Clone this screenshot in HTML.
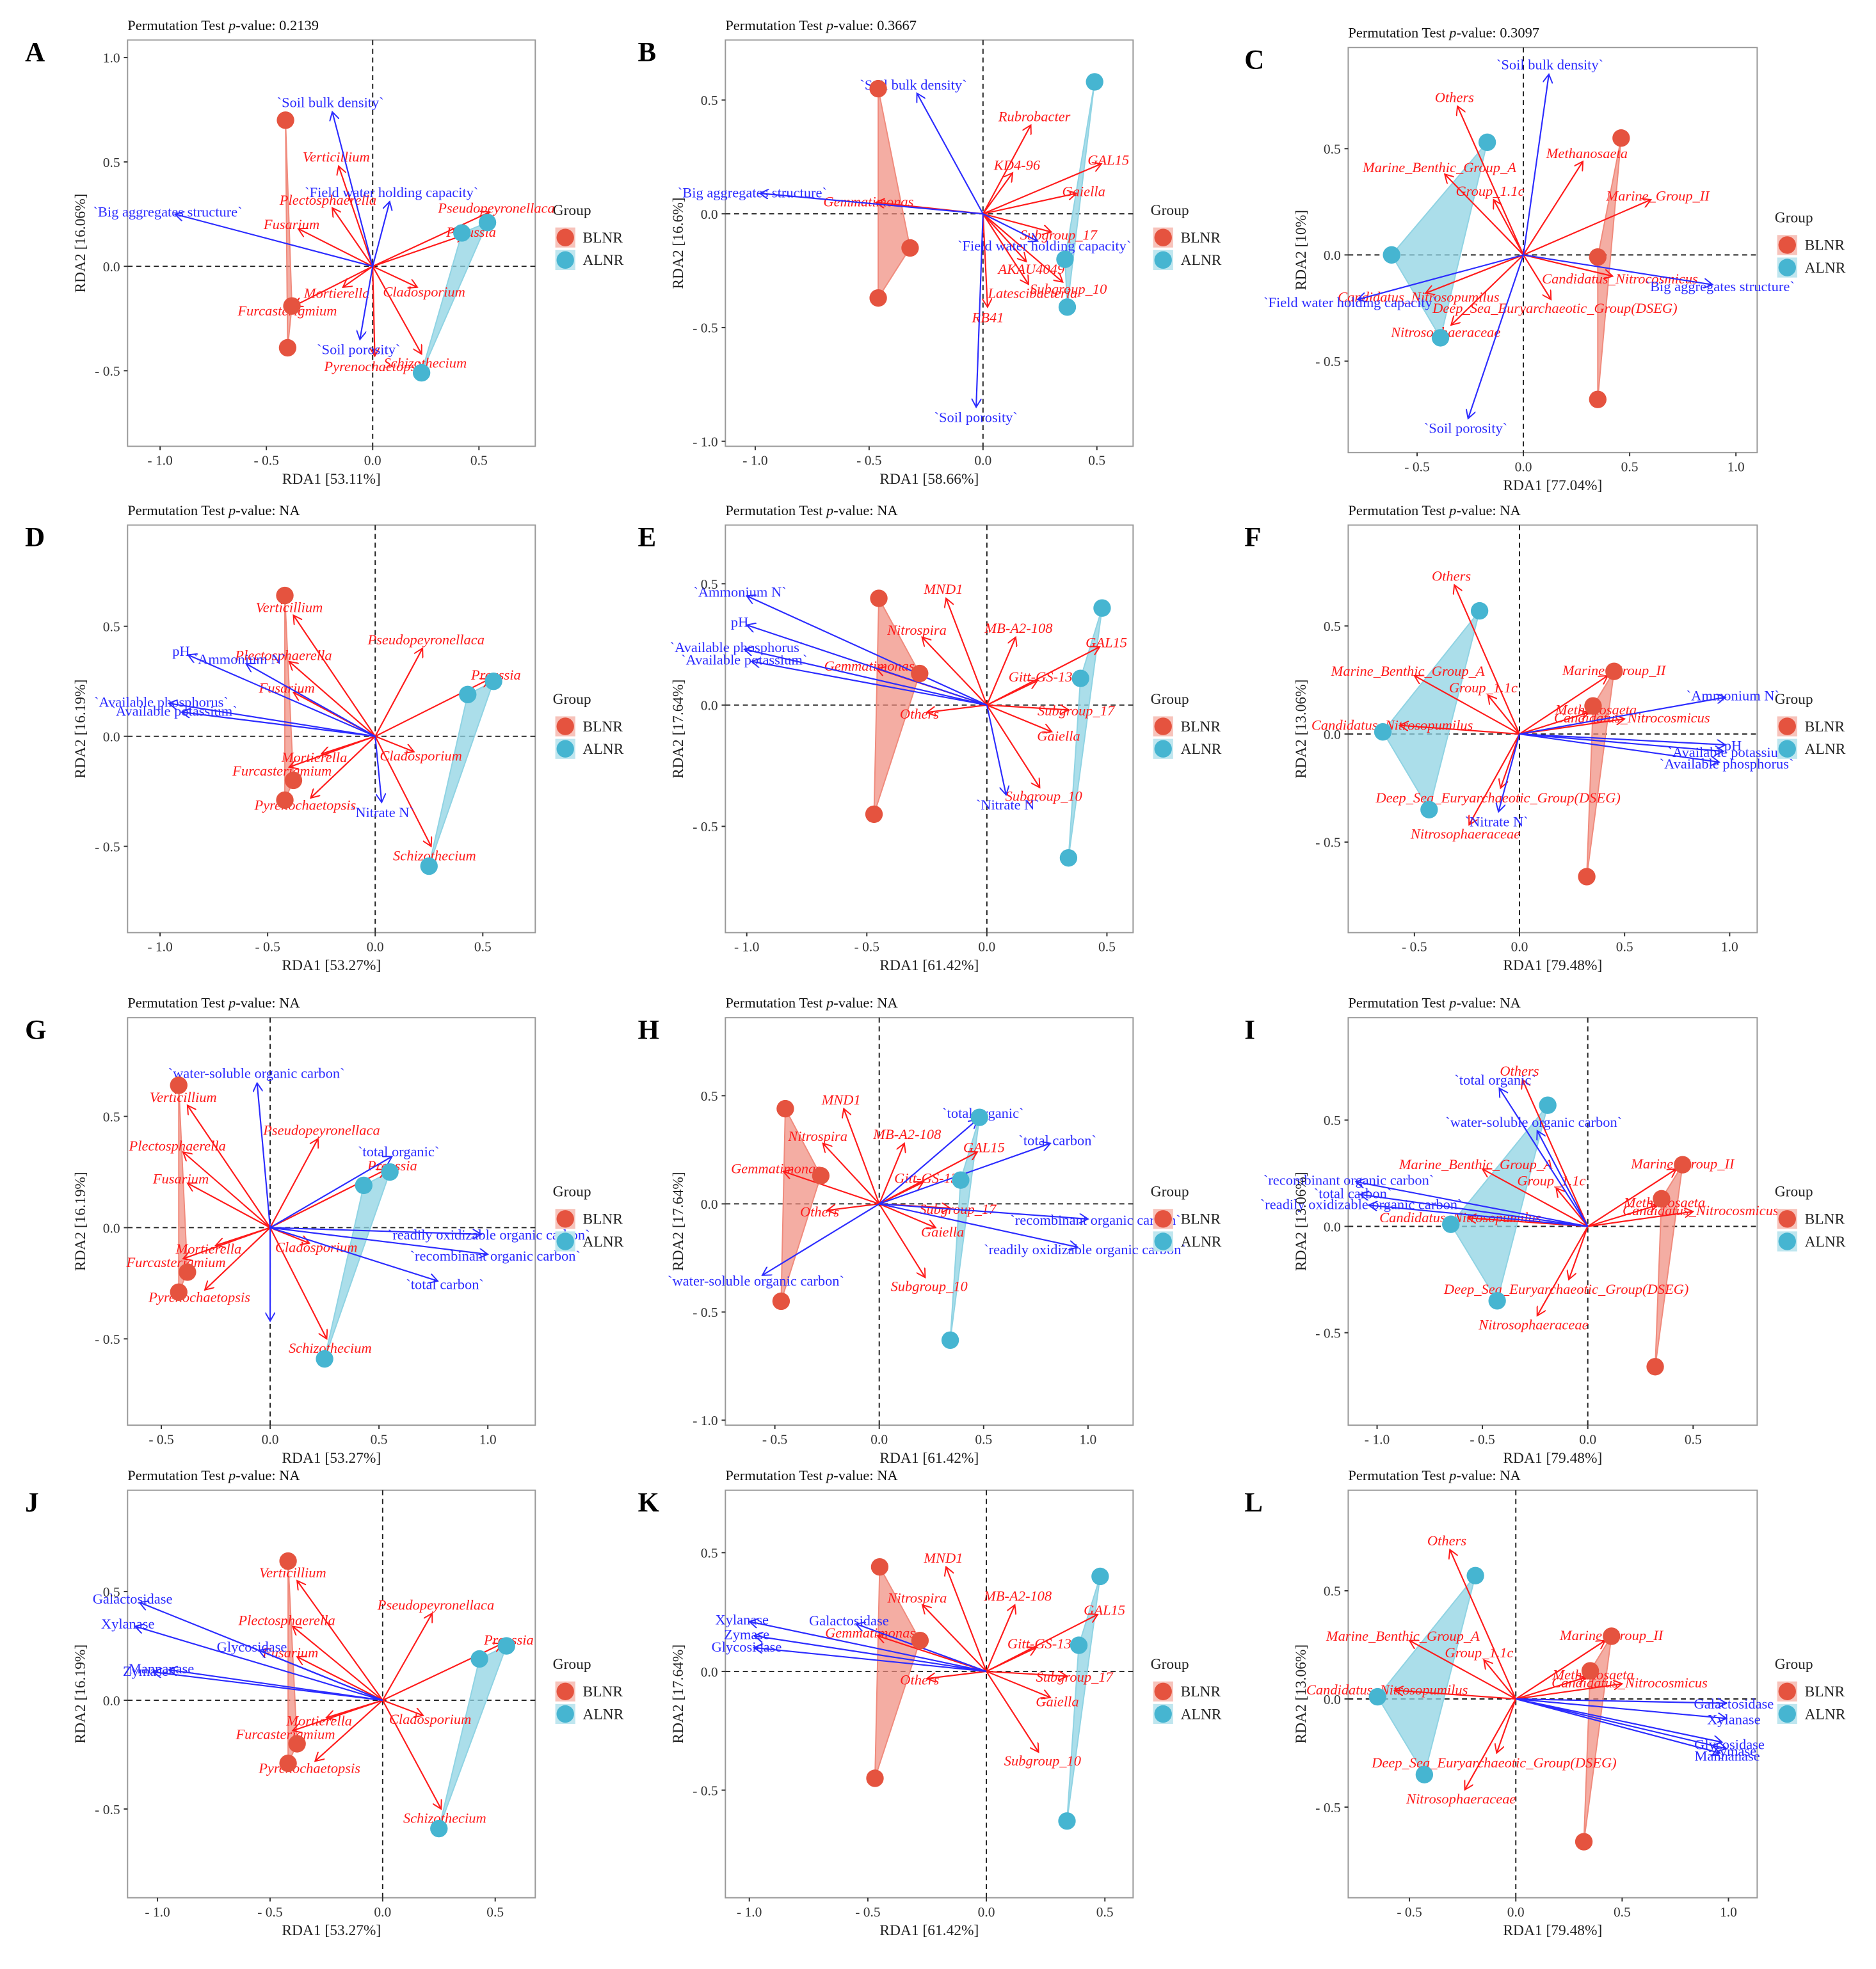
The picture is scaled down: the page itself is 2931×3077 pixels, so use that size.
<!DOCTYPE html>
<html><head><meta charset="utf-8">
<style>
html,body{margin:0;padding:0;background:#fff;}
svg{display:block;font-family:"Liberation Serif",serif;}
.sp{fill:#ff1a1a;font-style:italic;font-size:11.5px;}
.env{fill:#2b2bff;font-size:11.5px;}
.tick{fill:#333;font-size:11px;}
.axt{fill:#222;font-size:12px;}
</style></head>
<body>
<svg id="fig" xmlns="http://www.w3.org/2000/svg" width="2931" height="3077" viewBox="0 0 1500 1575" preserveAspectRatio="none">
<defs>
<marker id="ar" markerWidth="8" markerHeight="8" refX="7" refY="4" orient="auto" markerUnits="userSpaceOnUse"><path d="M0,0 L7,4 L0,8" fill="none" stroke="#ff1a1a" stroke-width="1"/></marker>
<marker id="ab" markerWidth="8" markerHeight="8" refX="7" refY="4" orient="auto" markerUnits="userSpaceOnUse"><path d="M0,0 L7,4 L0,8" fill="none" stroke="#2b2bff" stroke-width="1"/></marker>
</defs>
</svg>
<script>
// ---------- data ----------
const groups = ["BLNR","ALNR"];
const A_blnr=[[-0.41,0.70],[-0.38,-0.19],[-0.40,-0.39]];
const A_alnr=[[0.42,0.16],[0.54,0.21],[0.23,-0.51]];
const A_env=[["`Soil bulk density`",-0.19,0.74],["`Field water holding capacity`",0.08,0.31],["`Big aggregates structure`",-0.93,0.25],["`Soil porosity`",-0.06,-0.35]];
const A_sp=[["Verticillium",-0.16,0.48],["Plectosphaerella",-0.19,0.28],["Fusarium",-0.35,0.18],["Pseudopeyronellaca",0.55,0.26],["Preussia",0.43,0.15],["Mortierella",-0.14,-0.10],["Cladosporium",0.21,-0.10],["Furcasterigmium",-0.37,-0.19],["Pyrenochaetopsis",0.01,-0.43],["Schizothecium",0.23,-0.42]];
const B_blnr=[[-0.46,0.55],[-0.32,-0.15],[-0.46,-0.37]];
const B_alnr=[[0.49,0.58],[0.36,-0.20],[0.37,-0.41]];
const B_env=[["`Soil bulk density`",-0.29,0.53],["`Big aggregates structure`",-0.98,0.09],["`Field water holding capacity`",0.24,-0.12],["`Soil porosity`",-0.03,-0.85]];
const B_sp=[["Rubrobacter",0.21,0.39],["KD4-96",0.13,0.18],["GAL15",0.52,0.22],["Gaiella",0.41,0.09],["Gemmatimonas",-0.47,0.05],["Subgroup_17",0.30,-0.08],["AKAU4049",0.19,-0.21],["Latescibacteria",0.20,-0.31],["Subgroup_10",0.35,-0.30],["RB41",0.02,-0.41]];
const C_blnr=[[0.46,0.55],[0.35,-0.01],[0.35,-0.68]];
const C_alnr=[[-0.17,0.53],[-0.62,0.00],[-0.39,-0.39]];
const C_env=[["`Soil bulk density`",0.12,0.85],["`Big aggregates structure`",0.89,-0.14],["`Field water holding capacity`",-0.78,-0.21],["`Soil porosity`",-0.26,-0.77]];
const C_sp=[["Others",-0.31,0.70],["Marine_Benthic_Group_A",-0.37,0.38],["Group_1.1c",-0.14,0.26],["Methanosaeta",0.28,0.44],["Marine_Group_II",0.60,0.26],["Candidatus_Nitrosopumilus",-0.46,-0.18],["Candidatus_Nitrocosmicus",0.42,-0.10],["Deep_Sea_Euryarchaeotic_Group(DSEG)",0.13,-0.21],["Nitrosophaeraceae",-0.34,-0.33]];
const fungi_blnr=[[-0.42,0.64],[-0.38,-0.20],[-0.42,-0.29]];
const fungi_alnr=[[0.43,0.19],[0.55,0.25],[0.25,-0.59]];
const fungi_sp=[["Verticillium",-0.38,0.55],["Pseudopeyronellaca",0.22,0.40],["Preussia",0.53,0.26],["Plectosphaerella",-0.40,0.34],["Fusarium",-0.38,0.20],["Mortierella",-0.25,-0.08],["Cladosporium",0.18,-0.07],["Furcasterigmium",-0.40,-0.14],["Pyrenochaetopsis",-0.30,-0.28],["Schizothecium",0.26,-0.50]];
const bact_blnr=[[-0.45,0.44],[-0.28,0.13],[-0.47,-0.45]];
const bact_alnr=[[0.48,0.40],[0.39,0.11],[0.34,-0.63]];
const bact_sp=[["MND1",-0.17,0.44],["Nitrospira",-0.27,0.28],["MB-A2-108",0.12,0.28],["GAL15",0.47,0.24],["Gitt-GS-136",0.21,0.10],["Gemmatimonas",-0.46,0.15],["Subgroup_17",0.34,-0.02],["Gaiella",0.27,-0.11],["Subgroup_10",0.22,-0.34],["Others",-0.25,-0.03]];
const arch_blnr=[[0.45,0.29],[0.35,0.13],[0.32,-0.66]];
const arch_alnr=[[-0.19,0.57],[-0.65,0.01],[-0.43,-0.35]];
const arch_sp=[["Others",-0.31,0.69],["Marine_Benthic_Group_A",-0.50,0.27],["Group_1.1c",-0.15,0.18],["Methanosaeta",0.33,0.10],["Marine_Group_II",0.42,0.27],["Candidatus_Nitrosopumilus",-0.57,0.04],["Candidatus_Nitrocosmicus",0.50,0.07],["Deep_Sea_Euryarchaeotic_Group(DSEG)",-0.09,-0.25],["Nitrosophaeraceae",-0.24,-0.42]];
const D_env=[["pH",-0.87,0.37],["`Ammonium N`",-0.60,0.33],["`Available phosphorus`",-0.96,0.15],["`Available potassium`",-0.90,0.11],["`Nitrate N`",0.03,-0.30]];
const E_env=[["`Ammonium N`",-1.00,0.45],["pH",-1.00,0.33],["`Available phosphorus`",-1.01,0.23],["`Available potassium`",-0.98,0.18],["`Nitrate N`",0.08,-0.37]];
const F_env=[["`Ammonium N`",0.98,0.17],["pH",0.98,-0.05],["`Available potassium`",0.97,-0.08],["`Available phosphorus`",0.95,-0.13],["`Nitrate N`",-0.10,-0.36]];
const G_env=[["`water-soluble organic carbon`",-0.06,0.65],["`total organic`",0.56,0.32],["`readily oxidizable organic carbon`",0.97,-0.03],["`recombinant organic carbon`",1.00,-0.12],["`total carbon`",0.77,-0.24],["",0.00,-0.42]];
const H_env=[["`total organic`",0.47,0.39],["`total carbon`",0.82,0.28],["`recombinant organic carbon`",1.00,-0.07],["`readily oxidizable organic carbon`",0.95,-0.20],["`water-soluble organic carbon`",-0.56,-0.33]];
const I_env=[["`total organic`",-0.42,0.65],["`water-soluble organic carbon`",-0.24,0.45],["`recombinant organic carbon`",-1.10,0.21],["`total carbon`",-1.08,0.15],["`readily oxidizable organic carbon`",-1.04,0.10]];
const J_env=[["Galactosidase",-1.08,0.45],["Xylanase",-1.10,0.34],["Glycosidase",-0.55,0.23],["Mannanase",-0.95,0.14],["Zymase",-1.02,0.13]];
const K_env=[["Xylanase",-1.00,0.21],["Galactosidase",-0.55,0.20],["Zymase",-0.98,0.15],["Glycosidase",-0.98,0.10]];
const L_env=[["Galactosidase",0.99,-0.02],["Xylanase",0.99,-0.09],["Glycosidase",0.97,-0.20],["Zymase",0.99,-0.23],["Mannanase",0.96,-0.25]];
const xt1=[-1,-0.5,0,0.5], xt2=[-0.5,0,0.5,1];
const yt3=[0.5,0,-0.5], yt4a=[1,0.5,0,-0.5], yt4b=[0.5,0,-0.5,-1];
const pvals=["0.2139","0.3667","0.3097","NA","NA","NA","NA","NA","NA","NA","NA","NA"];
const rda1=["53.11","58.66","77.04","53.27","61.42","79.48","53.27","61.42","79.48","53.27","61.42","79.48"];
const rda2=["16.06","16.6","10","16.19","17.64","13.06","16.19","17.64","13.06","16.19","17.64","13.06"];

const panels=[
 {id:"A",box:[102,32,428,357],xr:[-1.153,0.765],yr:[-0.862,1.084],xt:xt1,yt:yt4a,b:A_blnr,a:A_alnr,env:A_env,sp:A_sp},
 {id:"B",box:[580,32,906,357],xr:[-1.131,0.659],yr:[-1.022,0.764],xt:xt1,yt:yt4b,b:B_blnr,a:B_alnr,env:B_env,sp:B_sp},
 {id:"C",box:[1078,38,1405,362],xr:[-0.824,1.10],yr:[-0.93,0.976],xt:xt2,yt:yt3,b:C_blnr,a:C_alnr,env:C_env,sp:C_sp},
 {id:"D",box:[102,420,428,746],xr:[-1.151,0.744],yr:[-0.892,0.96],xt:xt1,yt:yt3,b:fungi_blnr,a:fungi_alnr,env:D_env,sp:fungi_sp},
 {id:"E",box:[580,420,906,746],xr:[-1.089,0.609],yr:[-0.938,0.742],xt:xt1,yt:yt3,b:bact_blnr,a:bact_alnr,env:E_env,sp:bact_sp},
 {id:"F",box:[1078,420,1405,746],xr:[-0.815,1.131],yr:[-0.919,0.967],xt:xt2,yt:yt3,b:arch_blnr,a:arch_alnr,env:F_env,sp:arch_sp},
 {id:"G",box:[102,814,428,1140],xr:[-0.655,1.218],yr:[-0.888,0.944],xt:xt2,yt:yt3,b:fungi_blnr,a:fungi_alnr,env:G_env,sp:fungi_sp},
 {id:"H",box:[580,814,906,1140],xr:[-0.737,1.216],yr:[-1.023,0.861],xt:xt2,yt:yt4b,b:bact_blnr,a:bact_alnr,env:H_env,sp:bact_sp},
 {id:"I",box:[1078,814,1405,1140],xr:[-1.137,0.804],yr:[-0.935,0.982],xt:xt1,yt:yt3,b:arch_blnr,a:arch_alnr,env:I_env,sp:arch_sp},
 {id:"J",box:[102,1192,428,1518],xr:[-1.133,0.678],yr:[-0.908,0.966],xt:xt1,yt:yt3,b:fungi_blnr,a:fungi_alnr,env:J_env,sp:fungi_sp},
 {id:"K",box:[580,1192,906,1518],xr:[-1.101,0.619],yr:[-0.953,0.763],xt:xt1,yt:yt3,b:bact_blnr,a:bact_alnr,env:K_env,sp:bact_sp},
 {id:"L",box:[1078,1192,1405,1518],xr:[-0.788,1.135],yr:[-0.919,0.965],xt:xt2,yt:yt3,b:arch_blnr,a:arch_alnr,env:L_env,sp:arch_sp}
];
const letterX=[20,510,995];
const NS="http://www.w3.org/2000/svg";
const svg=document.getElementById("fig");
function mk(tag,attrs,parent,txt){const e=document.createElementNS(NS,tag);for(const k in attrs)e.setAttribute(k,attrs[k]);if(txt!==undefined)e.textContent=txt;(parent||svg).appendChild(e);return e;}
function fmt(v){return v<0?"- "+Math.abs(v).toFixed(1):v.toFixed(1);}

panels.forEach((p,i)=>{
 const [x0,y0,x1,y1]=p.box;
 const sx=v=>x0+(v-p.xr[0])/(p.xr[1]-p.xr[0])*(x1-x0);
 const sy=v=>y1-(v-p.yr[0])/(p.yr[1]-p.yr[0])*(y1-y0);
 const g=mk("g",{});
 
 
 const r=mk("rect",{x:x0,y:y0,width:x1-x0,height:y1-y0,fill:"none",stroke:"#999","stroke-width":1},g);
 
 
 const letter=mk("text",{x:letterX[i%3],y:y0+17,"font-size":22,"font-weight":"bold",fill:"#000"},g,p.id);
 
 
 const t=mk("text",{x:x0,y:y0-8,"font-size":11.5,fill:"#111"},g);
 
 
 mk("tspan",{},t,"Permutation Test ");mk("tspan",{"font-style":"italic"},t,"p");mk("tspan",{},t,"-value: "+pvals[i]);
 mk("line",{x1:sx(0),y1:y0,x2:sx(0),y2:y1,stroke:"#222","stroke-dasharray":"4,3","stroke-width":1},g);
 mk("line",{x1:x0,y1:sy(0),x2:x1,y2:sy(0),stroke:"#222","stroke-dasharray":"4,3","stroke-width":1},g);
 const hb=mk("polygon",{points:p.b.map(q=>sx(q[0])+","+sy(q[1])).join(" "),fill:"#f08a7c","fill-opacity":0.7,stroke:"#f08a7c"},g);
 
 
 const ha=mk("polygon",{points:p.a.map(q=>sx(q[0])+","+sy(q[1])).join(" "),fill:"#8fd3e3","fill-opacity":0.75,stroke:"#8fd3e3"},g);
 
 
 const ox=sx(0),oy=sy(0);
 function arrows(arr,col,mark,cls,nm){
  arr.forEach(d=>{
   const ex=sx(d[1]),ey=sy(d[2]);
   const ln=mk("line",{x1:ox,y1:oy,x2:ex,y2:ey,stroke:col,"stroke-width":1.1,"marker-end":"url(#"+mark+")"},g);
   
   
   if(d[0]){
    const dx=ex-ox, dy=ey-oy, L=Math.hypot(dx,dy)||1;
    const tx=mk("text",{class:cls,x:ex+dx/L*6,y:ey+dy/L*8+4,"text-anchor":"middle"},g,d[0]);
    
    
   }
  });
 }
 arrows(p.sp,"#ff1a1a","ar","sp","species");
 arrows(p.env,"#2b2bff","ab","env","env-factor");
 [[p.b,"#e5533f","blnr-point"],[p.a,"#46b5d1","alnr-point"]].forEach(([pts,c,nm])=>{
  pts.forEach(q=>{
   const c1=mk("circle",{cx:sx(q[0]),cy:sy(q[1]),r:7,fill:c},g);
   
   
  });
 });
 p.xt.forEach(v=>{
  mk("line",{x1:sx(v),y1:y1,x2:sx(v),y2:y1+3,stroke:"#333"},g);
  const tx=mk("text",{class:"tick",x:sx(v),y:y1+15,"text-anchor":"middle"},g,fmt(v));
  
  
 });
 p.yt.forEach(v=>{
  mk("line",{x1:x0-3,y1:sy(v),x2:x0,y2:sy(v),stroke:"#333"},g);
  const tx=mk("text",{class:"tick",x:x0-6,y:sy(v)+4,"text-anchor":"end"},g,fmt(v));
  
  
 });
 const xa=mk("text",{class:"axt",x:(x0+x1)/2,y:y1+30,"text-anchor":"middle"},g,"RDA1 ["+rda1[i]+"%]");
 
 
 const ya=mk("text",{class:"axt",x:0,y:0,"text-anchor":"middle",transform:"translate("+(x0-34)+","+((y0+y1)/2)+") rotate(-90)"},g,"RDA2 ["+rda2[i]+"%]");
 
 
 const lx=x1+14, ly=y0+(i<3?140:143);
 const lg=mk("g",{},g);
 
 
 mk("text",{x:lx,y:ly,"font-size":12,fill:"#222"},lg,"Group");
 groups.forEach((nm,k)=>{
  mk("rect",{x:lx+2,y:ly+10+k*18,width:16,height:16,fill:k?"#bfe6ef":"#f7c3bb"},lg);
  const c=mk("circle",{cx:lx+10,cy:ly+18+k*18,r:7,fill:k?"#46b5d1":"#e5533f"},lg);
  
  
  mk("text",{x:lx+24,y:ly+22+k*18,"font-size":12,fill:"#222"},lg,nm);
 });
});
</script>
</body></html>
